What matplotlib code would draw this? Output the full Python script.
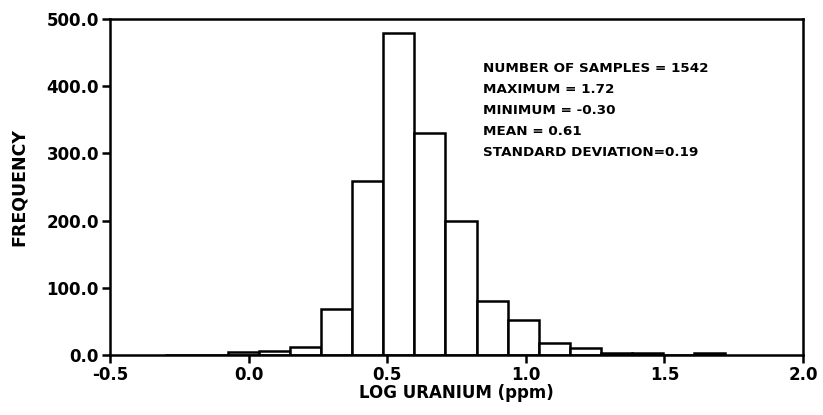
import numpy as np
import matplotlib
matplotlib.use("Agg")
import matplotlib.pyplot as plt

# Data
data_min = -0.30
data_max = 1.72
n_bins = 18
counts = [0, 0, 4, 6, 12, 69, 259, 479, 330, 199, 80, 52, 18, 10, 3, 3, 0, 3]
x_ticks = [-0.5, 0.0, 0.5, 1.0, 1.5, 2.0]
y_ticks = [0, 100, 200, 300, 400, 500]
stats_lines = ["NUMBER OF SAMPLES = 1542", "MAXIMUM = 1.72", "MINIMUM = -0.30",
               "MEAN = 0.61", "STANDARD DEVIATION=0.19"]

plt.rcParams['font.family'] = ['DejaVu Sans']
plt.rcParams['font.weight'] = 'bold'

fig = plt.figure(figsize=(8.23, 4.15), dpi=100)
ax = fig.add_axes([0.1337, 0.1446, 0.842, 0.8094])

edges = np.linspace(data_min, data_max, n_bins + 1)
ax.bar(edges[:-1], counts, width=np.diff(edges), align='edge',
       facecolor='white', edgecolor='black', linewidth=1.8)

ax.set_xlim(-0.5, 2.0)
ax.set_ylim(0, 500)
ax.set_xticks(x_ticks)
ax.set_xticklabels([f"{v:.1f}" for v in x_ticks])
ax.set_yticks(y_ticks)
ax.set_yticklabels([f"{v:.1f}" for v in y_ticks])
ax.tick_params(direction='out', length=6, width=1.8, labelsize=12, pad=2)
for s in ax.spines.values():
    s.set_linewidth(1.8)

ax.set_xlabel("LOG URANIUM (ppm)", fontsize=12, fontweight='bold', labelpad=0)
ax.set_ylabel("FREQUENCY", fontsize=12.5, fontweight='bold', labelpad=13)

ax.text(0.538, 0.872, "\n".join(stats_lines), transform=ax.transAxes,
        fontsize=9.7, fontweight='bold', va='top', ha='left', linespacing=1.8)

fig.savefig("out.png", dpi=100)
